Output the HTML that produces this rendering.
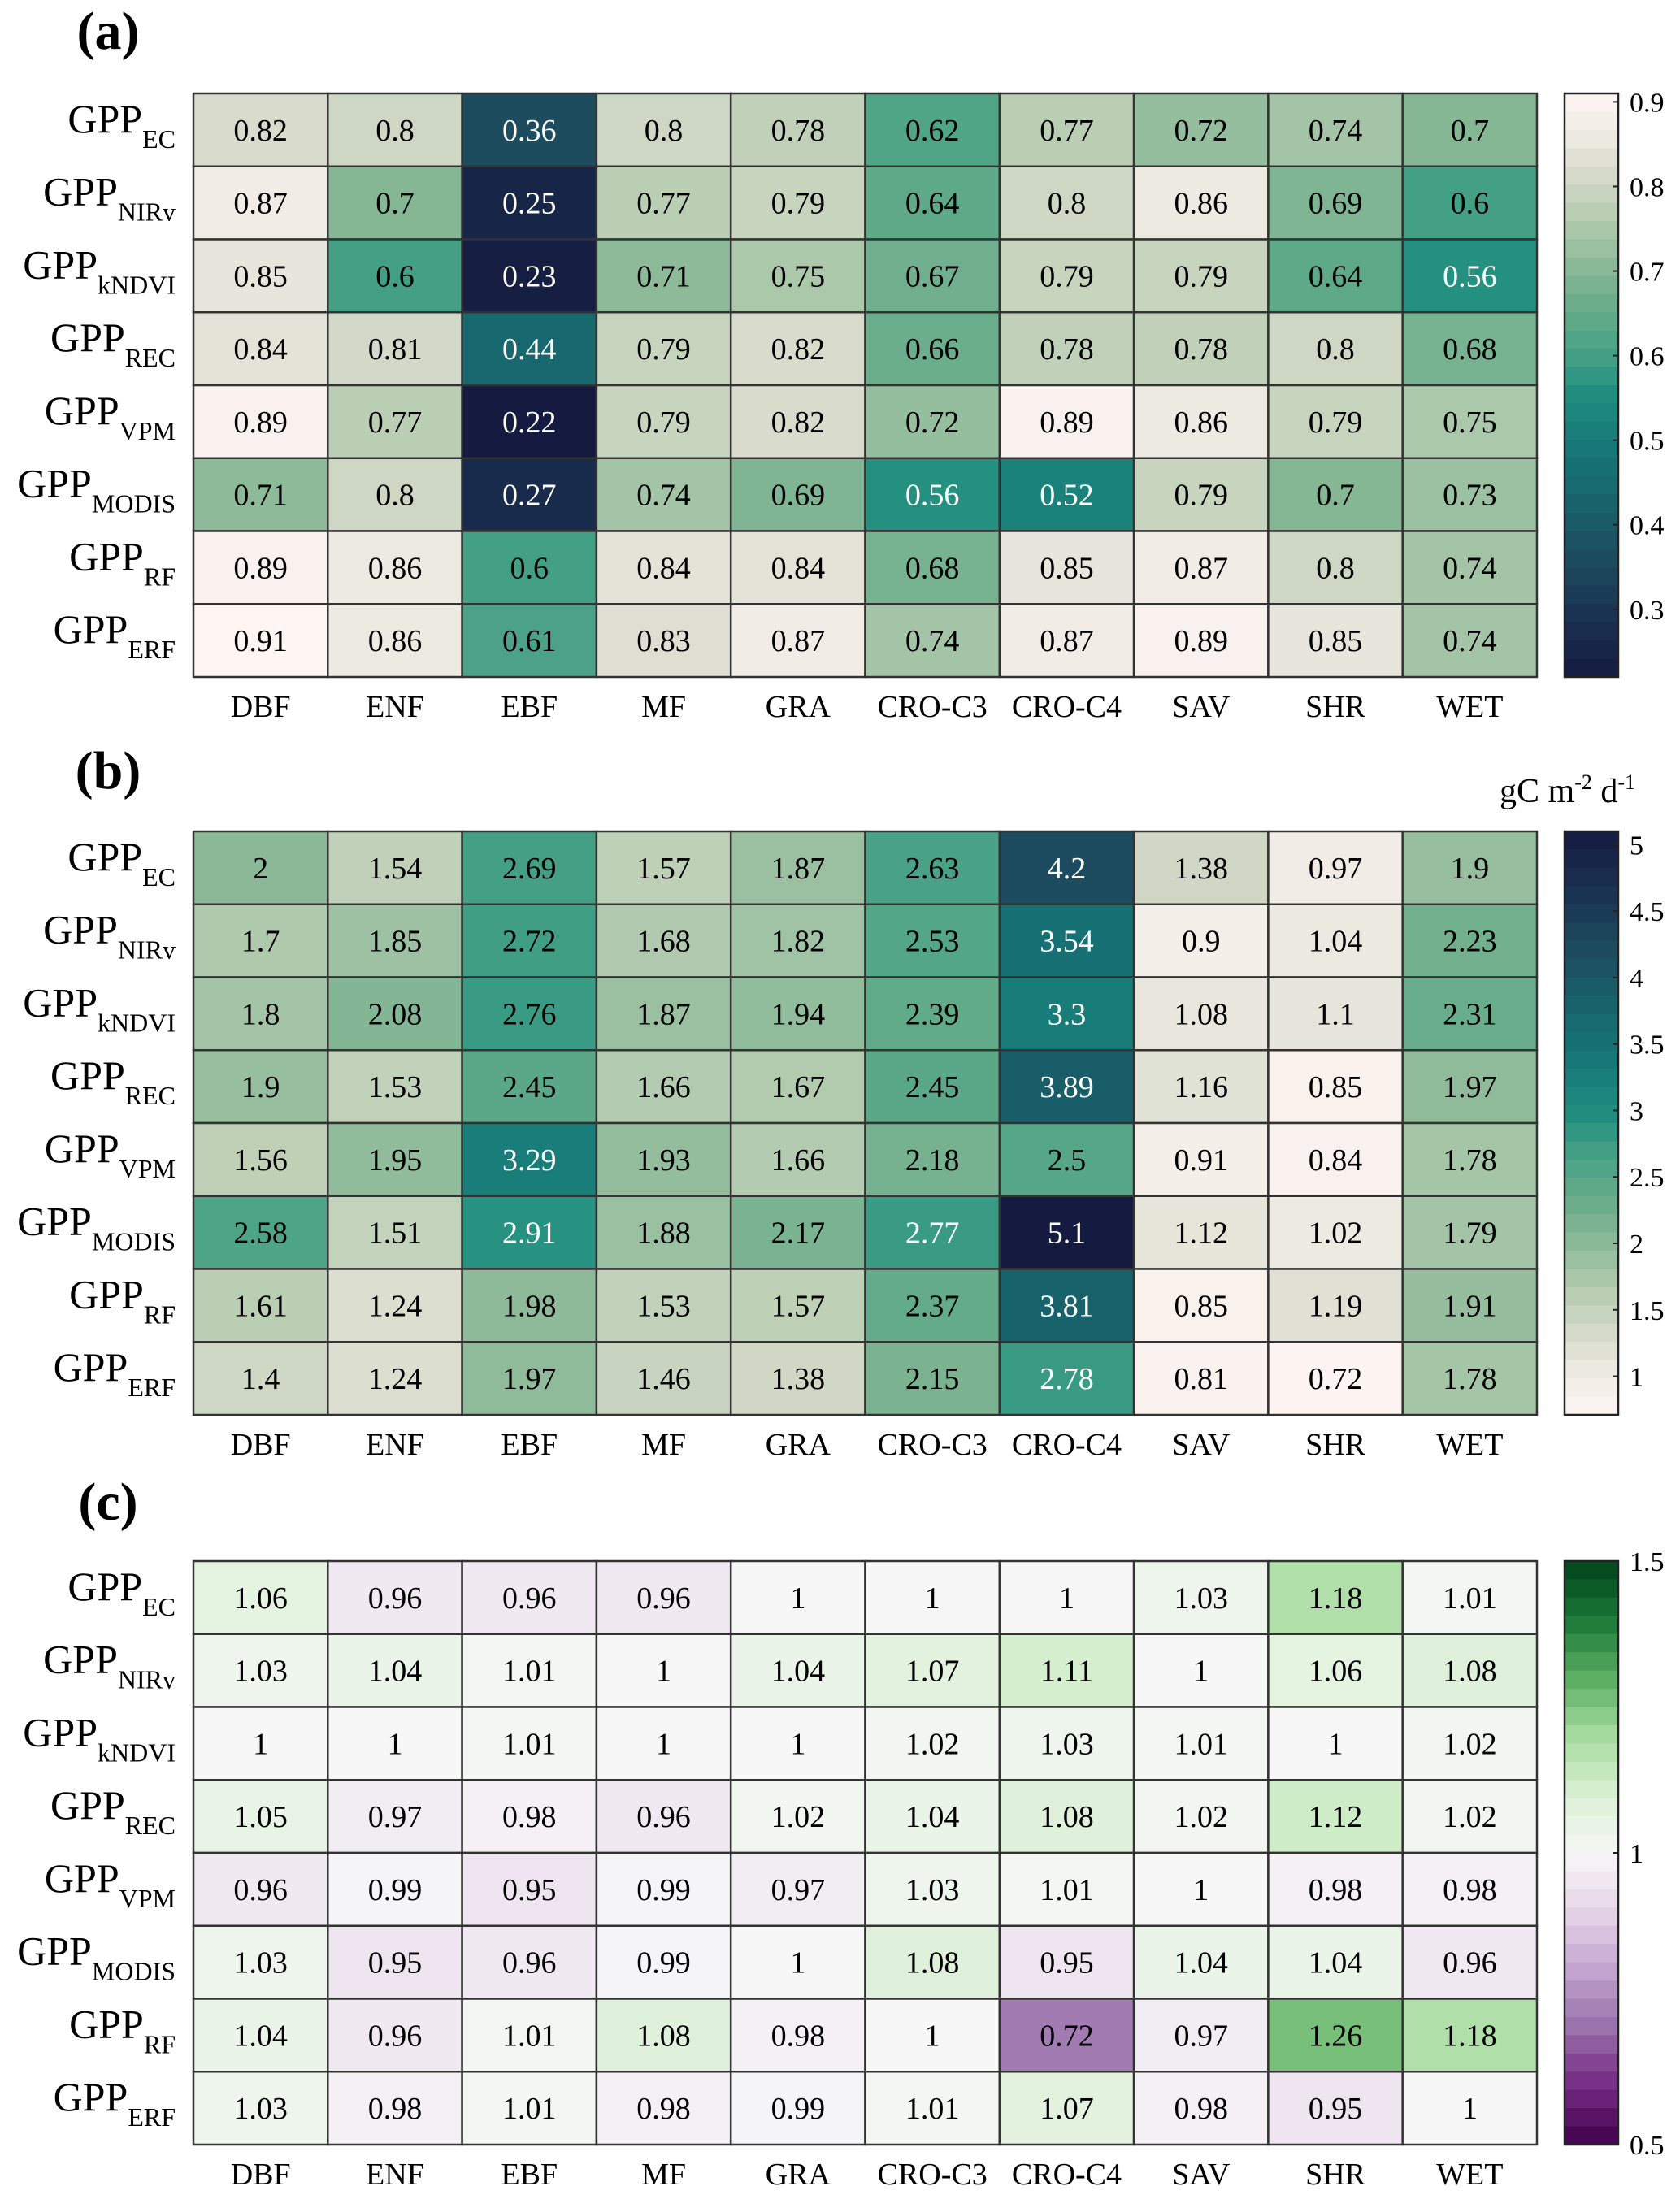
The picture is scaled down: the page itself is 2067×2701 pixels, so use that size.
<!DOCTYPE html>
<html><head><meta charset="utf-8">
<style>
html,body{margin:0;padding:0;background:#fff;}
svg{display:block;font-family:"Liberation Serif",serif;}
svg text{font-family:"Liberation Serif",serif;}
</style></head>
<body>
<svg id="fig" width="2067" height="2701" viewBox="0 0 2067 2701" xmlns="http://www.w3.org/2000/svg" font-family="Liberation Serif, serif"></svg>
<script>
const categories = ["DBF","ENF","EBF","MF","GRA","CRO-C3","CRO-C4","SAV","SHR","WET"];
const rowSubs = ["EC","NIRv","kNDVI","REC","VPM","MODIS","RF","ERF"];
const valuesA = [
[0.82,0.8,0.36,0.8,0.78,0.62,0.77,0.72,0.74,0.7],
[0.87,0.7,0.25,0.77,0.79,0.64,0.8,0.86,0.69,0.6],
[0.85,0.6,0.23,0.71,0.75,0.67,0.79,0.79,0.64,0.56],
[0.84,0.81,0.44,0.79,0.82,0.66,0.78,0.78,0.8,0.68],
[0.89,0.77,0.22,0.79,0.82,0.72,0.89,0.86,0.79,0.75],
[0.71,0.8,0.27,0.74,0.69,0.56,0.52,0.79,0.7,0.73],
[0.89,0.86,0.6,0.84,0.84,0.68,0.85,0.87,0.8,0.74],
[0.91,0.86,0.61,0.83,0.87,0.74,0.87,0.89,0.85,0.74]];
const valuesB = [
[2,1.54,2.69,1.57,1.87,2.63,4.2,1.38,0.97,1.9],
[1.7,1.85,2.72,1.68,1.82,2.53,3.54,0.9,1.04,2.23],
[1.8,2.08,2.76,1.87,1.94,2.39,3.3,1.08,1.1,2.31],
[1.9,1.53,2.45,1.66,1.67,2.45,3.89,1.16,0.85,1.97],
[1.56,1.95,3.29,1.93,1.66,2.18,2.5,0.91,0.84,1.78],
[2.58,1.51,2.91,1.88,2.17,2.77,5.1,1.12,1.02,1.79],
[1.61,1.24,1.98,1.53,1.57,2.37,3.81,0.85,1.19,1.91],
[1.4,1.24,1.97,1.46,1.38,2.15,2.78,0.81,0.72,1.78]];
const valuesC = [
[1.06,0.96,0.96,0.96,1,1,1,1.03,1.18,1.01],
[1.03,1.04,1.01,1,1.04,1.07,1.11,1,1.06,1.08],
[1,1,1.01,1,1,1.02,1.03,1.01,1,1.02],
[1.05,0.97,0.98,0.96,1.02,1.04,1.08,1.02,1.12,1.02],
[0.96,0.99,0.95,0.99,0.97,1.03,1.01,1,0.98,0.98],
[1.03,0.95,0.96,0.99,1,1.08,0.95,1.04,1.04,0.96],
[1.04,0.96,1.01,1.08,0.98,1,0.72,0.97,1.26,1.18],
[1.03,0.98,1.01,0.98,0.99,1.01,1.07,0.98,0.95,1]];
const ticksA = [0.3,0.4,0.5,0.6,0.7,0.8,0.9];
const ticksB = [1,1.5,2,2.5,3,3.5,4,4.5,5];
const ticksC = [0.5,1,1.5];
const rangeA = [0.22,0.91];
const rangeB = [0.71,5.1];
const rangeC = [0.5,1.5];

const NS="http://www.w3.org/2000/svg";
const svg=document.getElementById('fig');
function mk(tag,attrs,parent){const e=document.createElementNS(NS,tag);for(const k in attrs)e.setAttribute(k,attrs[k]);if(tag==='text')e.setAttribute('font-family','Liberation Serif, serif');(parent||svg).appendChild(e);return e;}
function hex(h){return [parseInt(h.slice(1,3),16),parseInt(h.slice(3,5),16),parseInt(h.slice(5,7),16)];}
function interp(stops,t){t=Math.max(0,Math.min(1,t));for(let i=1;i<stops.length;i++){if(t<=stops[i][0]){const a=stops[i-1],b=stops[i];const f=(t-a[0])/(b[0]-a[0]);const ca=hex(a[1]),cb=hex(b[1]);return 'rgb('+ca.map((v,j)=>Math.round(v+(cb[j]-v)*f)).join(',')+')';}}return stops[stops.length-1][1];}
const tempo=[[0,'#fff5f3'],[0.06,'#f1ede6'],[0.13,'#d9dccd'],[0.2,'#bccfb5'],[0.3,'#88b896'],[0.38,'#62ab89'],[0.45,'#44a085'],[0.51,'#228f80'],[0.6,'#177a78'],[0.68,'#17686f'],[0.8,'#1d4b5f'],[0.9,'#1a3151'],[1,'#151b40']];
const prgn=[[0,'#40004b'],[0.1,'#762a83'],[0.2,'#9970ab'],[0.3,'#c2a5cf'],[0.4,'#e7d4e8'],[0.5,'#f7f7f7'],[0.6,'#d9f0d3'],[0.7,'#a6dba0'],[0.8,'#5aae61'],[0.9,'#1b7837'],[1,'#00441b']];

const X0=238,X1=1891,NC=10,NR=8,H=718;
const cw=(X1-X0)/NC, rh=H/NR;
function xPos(i){return X0+i*cw;}

function panel(key,top,vals,range,ticks,tmap,cmap,whiteThr,label,labelY){
  const g=mk('g',{});
  
  
  const pl=mk('text',{x:133,y:labelY,'text-anchor':'middle','font-size':66,'font-weight':'bold'},g);
  pl.textContent=label;
  
  
  const yPos=r=>top+r*rh;
  const tv=v=>tmap((v-range[0])/(range[1]-range[0]));
  for(let r=0;r<NR;r++){
    for(let c=0;c<NC;c++){
      const v=vals[r][c];
      const t=tv(v);
      const rect=mk('rect',{x:xPos(c),y:yPos(r),width:cw,height:rh,fill:interp(cmap,t),stroke:'#333','stroke-width':2.5},g);
      
      
      const tx=mk('text',{x:xPos(c)+cw/2,y:yPos(r)+rh/2+13,'text-anchor':'middle','font-size':38,fill:t>whiteThr?'#fff':'#000'},g);
      tx.textContent=String(v);
      
      
    }
    const rl=mk('text',{x:216,y:yPos(r)+rh/2+3,'text-anchor':'end','font-size':50},g);
    
    
    const t1=mk('tspan',{},rl);t1.textContent='GPP';
    const t2=mk('tspan',{'font-size':32,dy:19},rl);t2.textContent=rowSubs[r];
  }
  for(let c=0;c<NC;c++){
    const xl=mk('text',{x:xPos(c)+cw/2,y:top+H+49,'text-anchor':'middle','font-size':38},g);
    xl.textContent=categories[c];
    
    
  }
  const cbx=1925,cbw=66,n=32,bh=H/n;
  const cb=mk('g',{},g);
  
  
  for(let i=0;i<n;i++){
    const t=tmap(1-(i+0.5)/n);
    mk('rect',{x:cbx,y:top+i*bh,width:cbw,height:bh+0.6,fill:interp(cmap,t)},cb);
  }
  mk('rect',{x:cbx,y:top,width:cbw,height:H,fill:'none',stroke:'#222','stroke-width':2.5},cb);
  const cy=v=>top+H-(v-range[0])/(range[1]-range[0])*H;
  ticks.forEach(v=>{
    const y=cy(v);
    mk('line',{x1:cbx+cbw-7,x2:cbx+cbw,y1:y,y2:y,stroke:'#222','stroke-width':2},cb);
    const tl=mk('text',{x:2005,y:y+12,'font-size':34},cb);
    tl.textContent=String(v);
    
    
  });
}
panel('a',115,valuesA,rangeA,ticksA,t=>1-t,tempo,0.468,'(a)',60);
panel('b',1023,valuesB,rangeB,ticksB,t=>t,tempo,0.468,'(b)',970);
panel('c',1921,valuesC,rangeC,ticksC,t=>t,prgn,2,'(c)',1870);

const unit=mk('text',{x:1845,y:987,'font-size':42});


const u1=mk('tspan',{},unit);u1.textContent='gC m';
const u2=mk('tspan',{'font-size':26,dy:-16},unit);u2.textContent='-2';
const u3=mk('tspan',{dy:16},unit);u3.textContent=' d';
const u4=mk('tspan',{'font-size':26,dy:-16},unit);u4.textContent='-1';
</script>
</body></html>
